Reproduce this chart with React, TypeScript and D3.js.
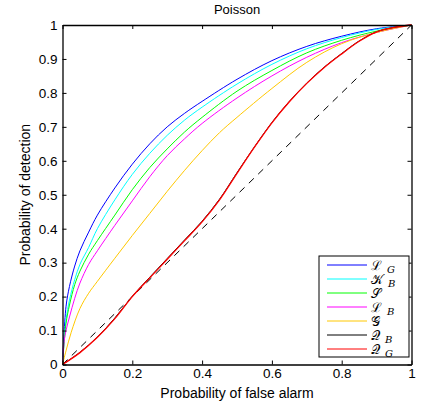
import React, { useRef, useEffect } from 'react';
import * as d3 from 'd3';

// ROC curves: [false alarm, detection]
const lgPts = [[0, 0], [0.01, 0.17], [0.02, 0.23], [0.035, 0.29], [0.05, 0.335], [0.075, 0.39], [0.1, 0.44], [0.15, 0.52], [0.2, 0.59], [0.25, 0.65], [0.3, 0.7], [0.35, 0.74], [0.4, 0.775], [0.5, 0.84], [0.6, 0.895], [0.7, 0.937], [0.8, 0.967], [0.9, 0.989], [1, 1]];
const kbPts = [[0, 0], [0.01, 0.13], [0.02, 0.19], [0.035, 0.25], [0.05, 0.295], [0.075, 0.345], [0.1, 0.4], [0.15, 0.485], [0.2, 0.56], [0.25, 0.622], [0.3, 0.675], [0.35, 0.72], [0.4, 0.758], [0.5, 0.826], [0.6, 0.884], [0.7, 0.93], [0.8, 0.963], [0.9, 0.987], [1, 1]];
const sPts = [[0, 0], [0.01, 0.12], [0.02, 0.175], [0.035, 0.235], [0.05, 0.275], [0.075, 0.325], [0.1, 0.365], [0.15, 0.44], [0.2, 0.515], [0.25, 0.58], [0.3, 0.635], [0.35, 0.685], [0.4, 0.728], [0.5, 0.805], [0.6, 0.866], [0.7, 0.918], [0.8, 0.955], [0.9, 0.982], [1, 1]];
const lbPts = [[0, 0], [0.005, 0.07], [0.01, 0.1], [0.02, 0.14], [0.035, 0.195], [0.05, 0.24], [0.075, 0.295], [0.1, 0.335], [0.15, 0.41], [0.2, 0.482], [0.25, 0.553], [0.3, 0.615], [0.35, 0.665], [0.4, 0.71], [0.5, 0.785], [0.6, 0.85], [0.7, 0.905], [0.8, 0.948], [0.9, 0.978], [1, 1]];
const gPts = [[0, 0], [0.01, 0.04], [0.025, 0.095], [0.05, 0.165], [0.075, 0.21], [0.1, 0.245], [0.15, 0.313], [0.2, 0.38], [0.25, 0.445], [0.3, 0.51], [0.35, 0.572], [0.4, 0.63], [0.45, 0.683], [0.5, 0.728], [0.6, 0.813], [0.7, 0.89], [0.8, 0.945], [0.9, 0.978], [1, 1]];
const qbPts = [[0, 0], [0.05, 0.036], [0.1, 0.081], [0.15, 0.137], [0.2, 0.201], [0.25, 0.257], [0.3, 0.312], [0.35, 0.367], [0.4, 0.422], [0.45, 0.487], [0.5, 0.565], [0.55, 0.641], [0.6, 0.713], [0.65, 0.775], [0.7, 0.829], [0.75, 0.876], [0.8, 0.916], [0.85, 0.953], [0.9, 0.98], [0.95, 0.993], [1, 1]];
const qgPts = [[0, 0], [0.05, 0.035], [0.1, 0.08], [0.15, 0.135], [0.2, 0.2], [0.25, 0.255], [0.3, 0.31], [0.35, 0.365], [0.4, 0.42], [0.45, 0.485], [0.5, 0.563], [0.55, 0.64], [0.6, 0.712], [0.65, 0.774], [0.7, 0.828], [0.75, 0.875], [0.8, 0.915], [0.85, 0.952], [0.9, 0.98], [0.95, 0.993], [1, 1]];

const seriesNames = [['ℒ', 'G'], ['𝒦', 'B'], ['𝒮', ''], ['ℒ', 'B'], ['𝒢', ''], ['𝒬', 'B'], ['𝒬', 'G']];
const seriesColors = ['#0000ff', '#00ffff', '#00ff00', '#ff00ff', '#ffc800', '#000000', '#ff0000'];
const seriesData = [lgPts, kbPts, sPts, lbPts, gPts, qbPts, qgPts];

const xTicks = [0, 0.2, 0.4, 0.6, 0.8, 1];
const yTicks = [0, 0.1, 0.2, 0.3, 0.4, 0.5, 0.6, 0.7, 0.8, 0.9, 1];

const App = () => {
  const ref = useRef<SVGSVGElement>(null);

  useEffect(() => {
    const svg = d3.select(ref.current);
    svg.selectAll('*').remove();

    const width = 433;
    const height = 407;
    const margin = { top: 25, right: 21.5, bottom: 42.5, left: 62.5 };
    const font = 'Liberation Sans, Arial, sans-serif';

    const x = d3.scaleLinear().domain([0, 1]).range([margin.left, width - margin.right]);
    const y = d3.scaleLinear().domain([0, 1]).range([height - margin.bottom, margin.top]);

    svg.append('rect')
      .attr('width', width).attr('height', height).attr('fill', 'white');

    // chance line
    svg.append('line')
      .attr('x1', x(0)).attr('y1', y(0)).attr('x2', x(1)).attr('y2', y(1))
      .attr('stroke', '#000').attr('stroke-width', 1).attr('stroke-dasharray', '7,6');

    const line = d3.line<number[]>()
      .x(d => x(d[0]))
      .y(d => y(d[1]))
      .curve(d3.curveCatmullRom.alpha(0.5));

    seriesData.forEach((pts, i) => {
      svg.append('path')
        .datum(pts)
        .attr('d', line)
        .attr('fill', 'none')
        .attr('stroke', seriesColors[i])
        .attr('stroke-width', i === 6 ? 1.3 : 1);
    });

    // axes: ticks inside, mirrored on top and right
    const gx = svg.append('g')
      .attr('transform', `translate(0,${y(0)})`)
      .call(d3.axisBottom(x).tickValues(xTicks).tickSizeInner(-4).tickSizeOuter(0).tickPadding(4).tickFormat(d3.format('~g')));
    const gy = svg.append('g')
      .attr('transform', `translate(${x(0)},0)`)
      .call(d3.axisLeft(y).tickValues(yTicks).tickSizeInner(-4).tickSizeOuter(0).tickPadding(5).tickFormat(d3.format('~g')));
    const gx2 = svg.append('g')
      .attr('transform', `translate(0,${y(1)})`)
      .call(d3.axisTop(x).tickValues(xTicks).tickSizeInner(-4).tickSizeOuter(0).tickFormat(() => ''));
    const gy2 = svg.append('g')
      .attr('transform', `translate(${x(1)},0)`)
      .call(d3.axisRight(y).tickValues(yTicks).tickSizeInner(-4).tickSizeOuter(0).tickFormat(() => ''));
    [gx, gy, gx2, gy2].forEach(g => {
      g.select('.domain').attr('stroke', '#000').attr('stroke-width', 1.3);
      g.selectAll('.tick line').attr('stroke', '#000');
      g.selectAll('text').attr('font-family', font).attr('font-size', 13.5).attr('fill', '#000');
    });

    svg.append('text')
      .attr('x', (x(0) + x(1)) / 2).attr('y', 14)
      .attr('text-anchor', 'middle').attr('font-family', font).attr('font-size', 13)
      .text('Poisson');

    svg.append('text')
      .attr('x', (x(0) + x(1)) / 2).attr('y', 398)
      .attr('text-anchor', 'middle').attr('font-family', font).attr('font-size', 14)
      .text('Probability of false alarm');

    svg.append('text')
      .attr('transform', `translate(30,${(y(0) + y(1)) / 2}) rotate(-90)`)
      .attr('text-anchor', 'middle').attr('font-family', font).attr('font-size', 14)
      .text('Probability of detection');

    // legend
    const lg = svg.append('g');
    lg.append('rect')
      .attr('x', 319).attr('y', 256).attr('width', 90).attr('height', 101)
      .attr('fill', 'white').attr('stroke', '#000').attr('stroke-width', 1);
    seriesNames.forEach((nm, i) => {
      const ly = 265 + i * 14;
      lg.append('line')
        .attr('x1', 327).attr('x2', 367).attr('y1', ly).attr('y2', ly)
        .attr('stroke', seriesColors[i]).attr('stroke-width', 1);
      const t = lg.append('text')
        .attr('x', 371).attr('y', ly + 5)
        .attr('font-family', 'DejaVu Serif, serif').attr('font-size', 13);
      t.append('tspan').text(nm[0]);
      if (nm[1]) {
        t.append('tspan').attr('dx', 5).attr('dy', 3).attr('font-size', 10).attr('font-style', 'italic').text(nm[1]);
      }
    });
  }, []);

  return <svg ref={ref} width={433} height={407} style={{ position: 'absolute', left: 0, top: 0 }}></svg>;
};

export default App;
